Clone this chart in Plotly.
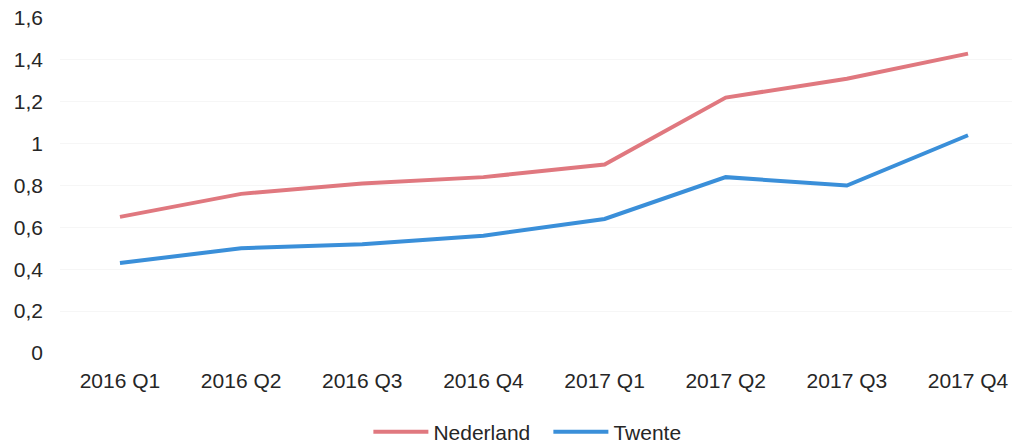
import plotly.graph_objects as go

quarters = ["2016 Q1", "2016 Q2", "2016 Q3", "2016 Q4",
            "2017 Q1", "2017 Q2", "2017 Q3", "2017 Q4"]
nederland = [0.65, 0.76, 0.81, 0.84, 0.90, 1.22, 1.31, 1.43]
twente = [0.43, 0.50, 0.52, 0.56, 0.64, 0.84, 0.80, 1.04]

y_ticks = [0, 0.2, 0.4, 0.6, 0.8, 1.0, 1.2, 1.4, 1.6]
y_labels = ["0", "0,2", "0,4", "0,6", "0,8", "1", "1,2", "1,4", "1,6"]

fig = go.Figure()
fig.add_trace(go.Scatter(x=quarters, y=nederland, name="Nederland", mode="lines",
                         line=dict(color="#e0787f", width=4)))
fig.add_trace(go.Scatter(x=quarters, y=twente, name="Twente", mode="lines",
                         line=dict(color="#3a8fd9", width=4)))

fig.update_layout(
    width=1012,
    height=444,
    margin=dict(l=60, r=0, t=18, b=91, autoexpand=False),
    paper_bgcolor="white",
    plot_bgcolor="white",
    font=dict(family="Liberation Sans, Arial, sans-serif", size=21, color="#262626"),
    showlegend=True,
    legend=dict(orientation="h", x=0.513, xanchor="center", y=-0.236, yanchor="middle",
                font=dict(size=21), itemwidth=55, entrywidth=110),
)
fig.update_xaxes(type="category", range=[-0.495, 7.363], showgrid=False,
                 showline=False, ticks="", ticklabelstandoff=13, automargin=False)
fig.update_yaxes(range=[0, 1.6], tickvals=y_ticks, ticktext=y_labels,
                 showgrid=True, gridcolor="#f6f6f6", zeroline=False,
                 ticks="", ticklabelstandoff=16, automargin=False,
                 ticklabeloverflow="allow")

# drop the default 8px body margin so the figure fills the window
fig.write_html("out.html", config={"displayModeBar": False},
               post_script="document.body.style.margin = '0';")
